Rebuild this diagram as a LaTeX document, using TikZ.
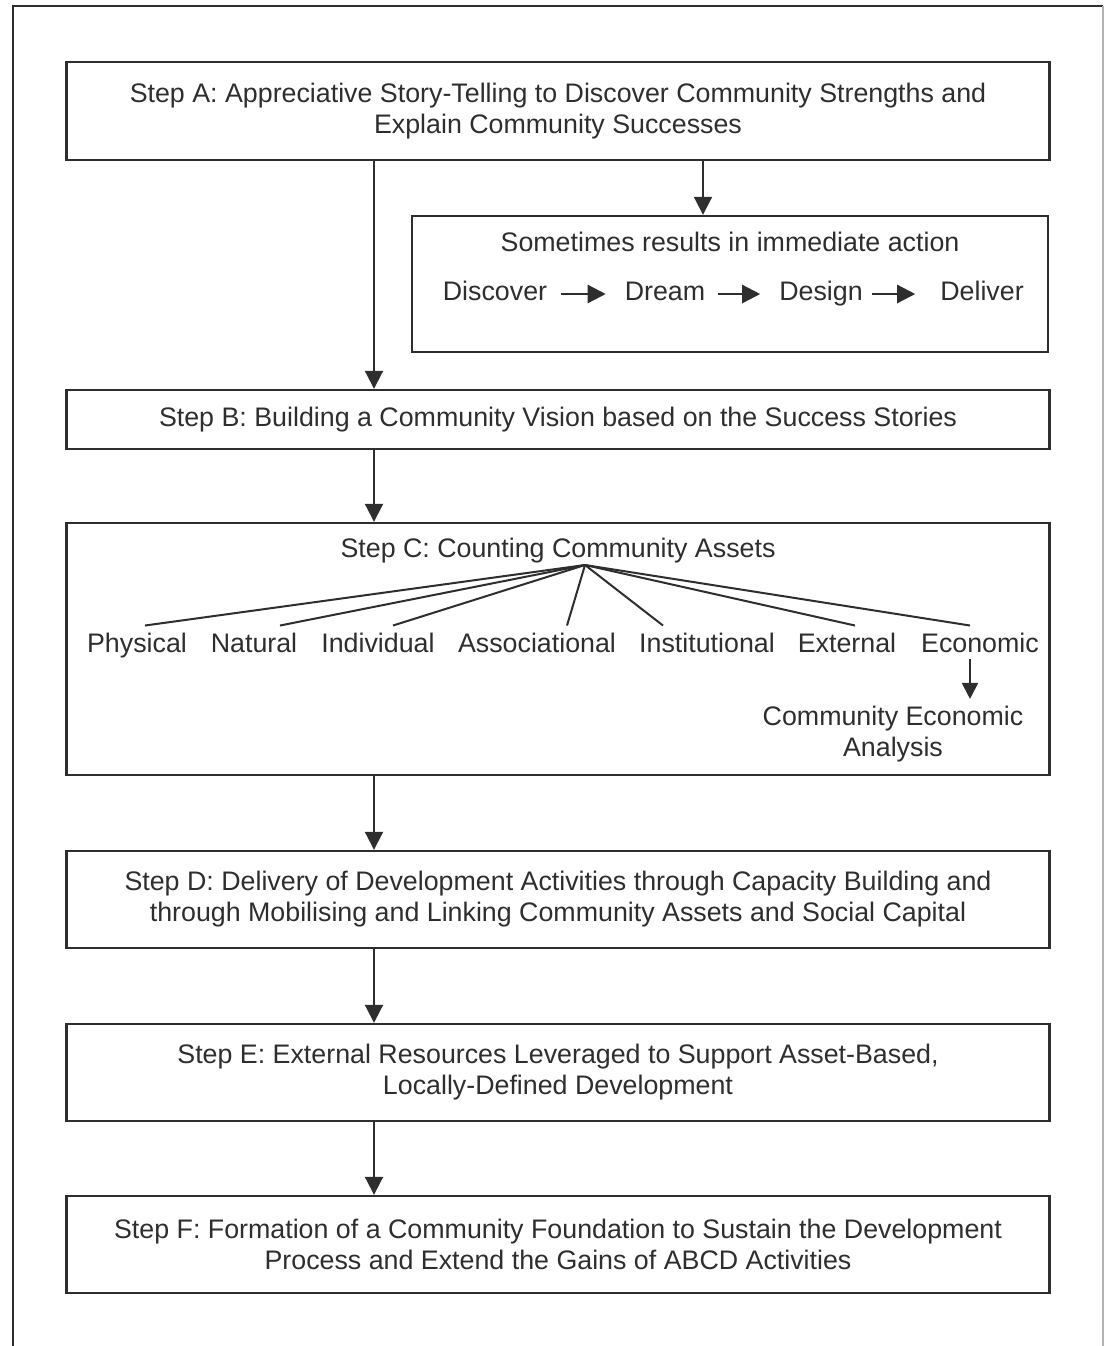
\documentclass[tikz,border=0pt]{standalone}
\usepackage{fontspec}
\setmainfont{Liberation Sans}
\usetikzlibrary{arrows.meta}
\definecolor{ink}{HTML}{2E2E2E}
\tikzset{
  stepbox/.style={draw=ink,line width=1.2pt,minimum width=491.5pt,align=center,inner sep=0pt},
  arr/.style={draw=ink,line width=1pt,-{Triangle[length=9pt,width=9pt]}},
  tinyarr/.style={draw=ink,line width=1.2pt,-{Triangle[length=9pt,width=9pt]}},
  fan/.style={draw=ink,line width=1pt}
}

\begin{document}
\begin{tikzpicture}[x=0.5pt,y=-0.5pt,every node/.style={font=\fontsize{13.4}{15.5}\selectfont,text=ink}]
  \useasboundingbox (0,0) rectangle (1105,1346);
  % outer frame
  \draw[ink,line width=1pt] (13,1346) -- (13,6) -- (1103,6);
  \draw[gray!60,line width=0.8pt] (1103,6) -- (1103,1346);

  \node[stepbox,minimum height=49pt] (a) at (558,111) {Step A: Appreciative Story-Telling to Discover Community Strengths and\\Explain Community Successes};

  % immediate action
  \node[stepbox,minimum width=318pt,minimum height=68pt] (now) at (730,284) {};
  \node (nowt) at (730,242) {Sometimes results in immediate action};
  \node[anchor=base] (disc) at (495,300) {Discover};
  \node[anchor=base] (drm) at (665,300) {Dream};
  \node[anchor=base] (des) at (821,300) {Design};
  \node[anchor=base] (del) at (982,300) {Deliver};
  \draw[tinyarr,shorten <=3.5pt,shorten >=6pt] ([yshift=3pt]disc.base east) -- ([yshift=3pt]drm.base west);
  \draw[tinyarr,shorten <=3pt,shorten >=6pt] ([yshift=3pt]drm.base east) -- ([yshift=3pt]des.base west);
  \draw[tinyarr,shorten <=1pt,shorten >=9pt] ([yshift=3pt]des.base east) -- ([yshift=3pt]del.base west);

  \node[stepbox,minimum height=29.5pt] (b) at (558,419.5) {Step B: Building a Community Vision based on the Success Stories};

  % assets
  \node[stepbox,minimum height=126pt] (c) at (558,649) {};
  \node (ct) at (558,551) {Step C: Counting Community Assets};
  \coordinate (apex) at (585,565);
  \node[anchor=base] (phys) at (137,652) {Physical};
  \node[anchor=base] (nat) at (254,652) {Natural};
  \node[anchor=base] (indiv) at (378,652) {Individual};
  \node[anchor=base] (assoc) at (537,652) {Associational};
  \node[anchor=base] (inst) at (707,652) {Institutional};
  \node[anchor=base] (ext) at (847,652) {External};
  \node[anchor=base] (eco) at (980,652) {Economic};
  \node[align=center] (ced) at (893,734) {Community Economic\\Analysis};
  \draw[fan] (apex) -- ([xshift=4pt]phys.north);
  \draw[fan] (apex) -- ([xshift=13pt]nat.north);
  \draw[fan] (apex) -- ([xshift=7.5pt]indiv.north);
  \draw[fan] (apex) -- ([xshift=15pt]assoc.north);
  \draw[fan] (apex) -- ([xshift=-22pt]inst.north);
  \draw[fan] (apex) -- ([xshift=4pt]ext.north);
  \draw[fan] (apex) -- ([xshift=-5pt]eco.north);
  \draw[arr,-{Triangle[length=8pt,width=8pt]}] ([xshift=-5pt]eco.south) -- ([xshift=-5pt]eco.south |- ced.north);

  \node[stepbox,minimum height=48.5pt] (d) at (558,899.5) {Step D: Delivery of Development Activities through Capacity Building and\\through Mobilising and Linking Community Assets and Social Capital};
  \node[stepbox,minimum height=48.5pt] (e) at (558,1072.5) {Step E: External Resources Leveraged to Support Asset-Based,\\Locally-Defined Development};
  \node[stepbox,minimum height=48.5pt] (f) at (558,1244.5) {Step F: Formation of a Community Foundation to Sustain the Development\\Process and Extend the Gains of ABCD Activities};

  \coordinate (lane) at (374,0);
  \coordinate (side) at (703,0);
  \draw[arr] (a.south -| side) -- (now.north -| side);
  \draw[arr] (a.south -| lane) -- (b.north -| lane);
  \draw[arr] (b.south -| lane) -- (c.north -| lane);
  \draw[arr] (c.south -| lane) -- (d.north -| lane);
  \draw[arr] (d.south -| lane) -- (e.north -| lane);
  \draw[arr] (e.south -| lane) -- (f.north -| lane);
\end{tikzpicture}
\end{document}
